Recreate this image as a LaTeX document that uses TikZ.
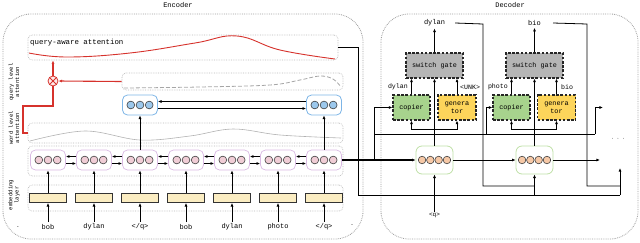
\documentclass[tikz,border=0pt]{standalone}
\usepackage{fontspec}
\setmainfont{Liberation Mono}
\usetikzlibrary{arrows.meta}
\definecolor{redc}{HTML}{D6322C}
\definecolor{pinkf}{HTML}{F0CDD6}
\definecolor{lavd}{HTML}{D9B9E2}
\definecolor{bluef}{HTML}{9CC8EC}
\definecolor{blued}{HTML}{7DB5E6}
\definecolor{peachf}{HTML}{F6C8A6}
\definecolor{greend}{HTML}{BEDFA6}
\definecolor{yelf}{HTML}{FBEDC2}
\definecolor{copf}{HTML}{A7D38D}
\definecolor{genf}{HTML}{FDD55B}
\definecolor{sgf}{HTML}{B5B5B5}
\begin{document}
\begin{tikzpicture}[x=1pt,y=-1pt,
  >={Latex[length=3.6pt,width=3pt]},
  outer/.style={draw=gray!75, densely dotted, line width=0.8pt, rounded corners=28pt},
  panel/.style={draw=gray!55, densely dotted, line width=0.7pt, rounded corners=4pt, inner sep=0pt},
  txt/.style={font=\fontsize{7}{8}\selectfont, inner sep=0pt},
  stxt/.style={font=\fontsize{5.6}{6.2}\selectfont, inner sep=0pt, align=center, rotate=90},
  conn/.style={line width=0.8pt, draw=black},
  thk/.style={line width=1.3pt, draw=black},
  redline/.style={line width=1.1pt, draw=redc},
  encell/.style={draw=lavd, line width=0.7pt, rounded corners=5pt, minimum width=35pt, minimum height=20pt, inner sep=0pt,
    path picture={\foreach \i in {-1,0,1} \draw[line width=0.6pt, draw=black!75, fill=pinkf] ([xshift=\i*9.2pt]path picture bounding box.center) circle (3.9pt);}},
  qcell/.style={draw=blued, line width=0.8pt, rounded corners=5pt, minimum width=35pt, minimum height=20pt, inner sep=0pt,
    path picture={\foreach \i in {-1,0,1} \draw[line width=0.6pt, draw=black!75, fill=bluef] ([xshift=\i*9.2pt]path picture bounding box.center) circle (3.9pt);}},
  decell/.style={draw=greend, line width=0.8pt, rounded corners=6pt, minimum width=37pt, minimum height=28pt, inner sep=0pt,
    path picture={\foreach \i in {-1.5,-0.5,0.5,1.5} \draw[line width=0.6pt, draw=black!75, fill=peachf] ([xshift=\i*8.3pt]path picture bounding box.center) circle (3.8pt);}},
  embox/.style={draw=black!80, fill=yelf, line width=0.8pt, minimum width=37pt, minimum height=9pt, inner sep=0pt},
  dbox/.style={draw=black!85, dashed, dash pattern=on 2.6pt off 1.6pt, line width=1.1pt, minimum height=25pt, inner sep=0pt, align=center, font=\fontsize{6.8}{8}\selectfont},
  otimes/.style={circle, draw=redc, fill=red!8, line width=0.8pt, minimum size=10pt, inner sep=0pt,
    path picture={\draw[redc, line width=0.8pt] (path picture bounding box.north west)--(path picture bounding box.south east) (path picture bounding box.south west)--(path picture bounding box.north east);}}
]
\useasboundingbox (0,0) rectangle (640,242);
% outer boxes
\node[txt] (enct) at (178,5) {Encoder};
\node[txt] (dect) at (510,5) {Decoder};
\draw[outer] (3,14) rectangle (363,239);
\draw[outer] (381,14) rectangle (638,239);
% left labels
\node[stxt] (lq) at (14,82) {query level\\attention};
\node[stxt] (lw) at (14,128) {word level\\attention};
\node[stxt] (le) at (14,195) {embedding\\layer};
\node[txt, font=\fontsize{5}{6}\selectfont] (dl) at (18,228) {-};
\node[txt, font=\fontsize{5}{6}\selectfont] (dr) at (352,226) {-};
% panels
\node[panel, minimum width=310pt, minimum height=25pt] (qa) at (183,47.5) {};
\node[txt, anchor=west, font=\fontsize{7.4}{8}\selectfont] (qat) at (30,43) {query-aware attention};
\draw[redline, line width=0.9pt] plot[smooth, tension=0.7] coordinates {(29,53) (67,57) (130,53) (195,43) (237,36) (280,50) (335,59)};
\node[panel, minimum width=221pt, minimum height=17pt] (qd) at (232.5,81.5) {};
\draw[gray!70, dashed, dash pattern=on 4pt off 2pt, line width=0.8pt] plot[smooth, tension=0.6] coordinates {(124,88) (200,87) (270,85) (300,80) (320,76) (333,79) (341,87)};
\node[panel, minimum width=315pt, minimum height=20pt] (wl) at (185.5,133) {};
\draw[gray!60, line width=0.6pt] plot[smooth, tension=0.6] coordinates {(30,141) (85,131) (140,140) (190,136) (233,129) (280,135) (341,138)};
\node[panel, minimum width=315pt, minimum height=30pt] (bl) at (185.5,161) {};
\node[panel, minimum width=315pt, minimum height=26pt] (em) at (185.5,198) {};
% encoder columns
\foreach \i/\x/\w in {1/48/bob,2/94/dylan,3/140/{</q>},4/186/bob,5/232/dylan,6/278/photo,7/324/{</q>}}{
  \node[encell] (h\i) at (\x,160) {};
  \node[embox] (e\i) at (\x,198) {};
  \node[txt] (w\i) at (\x,227) {\w};
  \draw[conn,->] ([yshift=2pt]w\i.north) -- (e\i.south);
  \draw[conn,->] (e\i.north) -- (h\i.south);
}
\foreach \i/\j in {1/2,2/3,3/4,4/5,5/6,6/7}{
  \draw[thk,line width=1.1pt,->] ([yshift=3.5pt]h\j.west) -- ([yshift=3.5pt]h\i.east);
  \draw[thk,line width=1.1pt,->] ([yshift=-3.5pt]h\i.east) -- ([yshift=-3.5pt]h\j.west);
}
% query level cells
\node[qcell] (q1) at (140,105) {};
\node[qcell] (q2) at (324,105) {};
\draw[thk,->] ([yshift=3.5pt]q2.west) -- ([yshift=3.5pt]q1.east);
\draw[thk,->] ([yshift=-3.5pt]q1.east) -- ([yshift=-3.5pt]q2.west);
\draw[conn,->] (h3.north) -- (q1.south);
\draw[conn,->] (h7.north) -- (q2.south);
% attention product
\node[otimes] (ot) at (53,81) {};
\draw[redline,->] (qd.west) -- (ot.east);
\draw[redline,->] (ot.north) -- (ot.north |- qa.south);
\draw[redline] (wl.west) -- (23,133) -- (23,106) -- (53,106) -- (ot.south);
% decoder
\node[dbox, fill=sgf, minimum width=57pt] (sg1) at (434.5,65.5) {switch gate};
\node[dbox, fill=sgf, minimum width=57pt] (sg2) at (534.5,65.5) {switch gate};
\node[dbox, fill=copf, minimum width=37pt] (cp1) at (411.5,107.5) {copier};
\node[dbox, fill=genf, minimum width=38pt] (gn1) at (457,107.5) {genera\\tor};
\node[dbox, fill=copf, minimum width=37pt] (cp2) at (511.5,107.5) {copier};
\node[dbox, fill=genf, minimum width=38pt] (gn2) at (556.5,107.5) {genera\\tor};
\node[decell] (d1) at (434.5,160) {};
\node[decell] (d2) at (534.5,160) {};
\node[txt] (o1) at (434.5,23) {dylan};
\node[txt] (o2) at (534.5,23) {bio};
\node[txt, anchor=east, font=\fontsize{6.6}{8}\selectfont] (l1) at (408,87) {dylan};
\node[txt, anchor=west, font=\fontsize{6.6}{8}\selectfont] (l2) at (460,87) {<UNK>};
\node[txt, anchor=east, font=\fontsize{6.6}{8}\selectfont] (l3) at (508,87) {photo};
\node[txt, anchor=west, font=\fontsize{6.6}{8}\selectfont] (l4) at (561,87) {bio};
\node[txt, font=\fontsize{6}{7}\selectfont] (qin) at (434.5,215) {<q>};
\node[txt] (dots) at (618,139) {$\cdot\,\cdot\,\cdot$};
\foreach \k in {1,2}{
  \draw[conn,->] (sg\k.north) -- ([yshift=-2pt]o\k.south);
  \draw[conn,->] (cp\k.north) -- (cp\k.north |- sg\k.south);
  \draw[conn,->] (gn\k.north) -- (gn\k.north |- sg\k.south);
  \draw[conn,->] (d\k.north) -- (sg\k.south);
  \draw[conn,->] (d\k.north |- 0,129) -| (cp\k.south);
  \draw[conn,->] (d\k.north |- 0,129) -| (gn\k.south);
}
% encoder to decoder
\coordinate (br) at (374,160);
\draw[thk] (h7.east) -- (br);
\draw[thk,->] (br) -- (d1.west);
\draw[conn,->] (br) |- (cp1.west);
\draw[conn] (374,134) -- (595,134);
\draw[conn,->] (486,134) |- (cp2.west);
\coordinate (nx) at (603,107.5);
\draw[conn,->] (595,134) |- (nx);
\draw[conn] (qa.east) -- (358,47.5) -- (358,195) -- (620,195);
\coordinate (ny) at (620,168);
\draw[conn,->] (620,195) -- (ny);
\draw[conn] ([xshift=10pt]o1.east) -- (483,24) -- (483,186) -- (534.5,186);
\draw[conn] ([xshift=12pt]o2.east) -- (587,24) -- (587,186) -- (620,186);
\draw[conn,->] (534.5,195) -- (d2.south);
\draw[conn,->] (qin.north) -- (d1.south);
\draw[conn,->] (d1.east) -- (d2.west);
\coordinate (nz) at (600,160);
\draw[conn,->] (d2.east) -- (nz);
\end{tikzpicture}
\end{document}
